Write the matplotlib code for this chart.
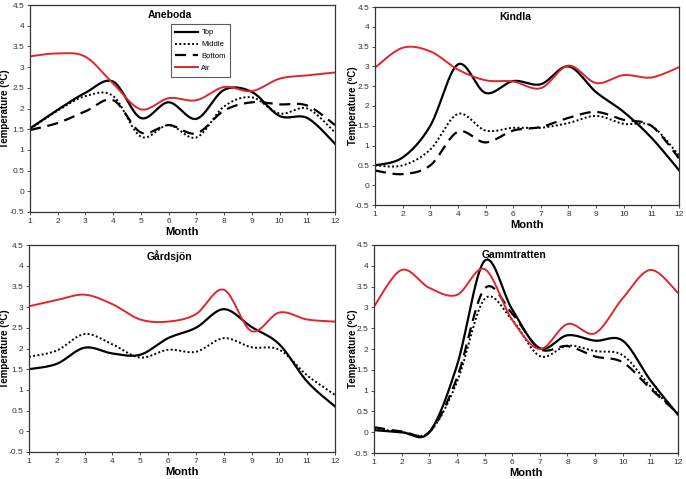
import numpy as np
import matplotlib
matplotlib.use("Agg")
import matplotlib.pyplot as plt
from matplotlib.lines import Line2D

plt.rcParams['font.family'] = ['Liberation Sans', 'DejaVu Sans']

months = list(range(1, 13))

aneboda_top = [1.52, 1.97, 2.38, 2.65, 1.77, 2.15, 1.75, 2.45, 2.40, 1.82, 1.77, 1.15]
aneboda_middle = [1.50, 1.95, 2.30, 2.30, 1.32, 1.60, 1.30, 2.05, 2.27, 1.88, 2.00, 1.42]
aneboda_bottom = [1.48, 1.65, 1.93, 2.20, 1.42, 1.60, 1.40, 1.95, 2.15, 2.10, 2.07, 1.60]
aneboda_air = [3.26, 3.33, 3.25, 2.60, 1.98, 2.25, 2.20, 2.52, 2.42, 2.72, 2.80, 2.87]

kindla_top = [0.50, 0.70, 1.50, 3.05, 2.33, 2.63, 2.55, 3.00, 2.35, 1.85, 1.20, 0.38]
kindla_middle = [0.50, 0.50, 0.90, 1.80, 1.38, 1.45, 1.45, 1.57, 1.75, 1.55, 1.50, 0.75]
kindla_bottom = [0.37, 0.28, 0.50, 1.35, 1.08, 1.38, 1.47, 1.70, 1.85, 1.65, 1.50, 0.68]
kindla_air = [2.97, 3.47, 3.38, 2.92, 2.65, 2.62, 2.45, 3.02, 2.58, 2.78, 2.72, 2.98]

gardsjon_top = [1.50, 1.63, 2.02, 1.88, 1.85, 2.25, 2.50, 2.95, 2.52, 2.10, 1.20, 0.60]
gardsjon_middle = [1.80, 1.95, 2.35, 2.10, 1.78, 1.97, 1.92, 2.25, 2.03, 1.97, 1.35, 0.88]
gardsjon_air = [3.02, 3.17, 3.30, 3.07, 2.70, 2.65, 2.83, 3.42, 2.42, 2.87, 2.70, 2.65]

gamm_top = [0.05, 0.00, 0.00, 1.60, 4.12, 2.95, 2.02, 2.33, 2.20, 2.20, 1.25, 0.42]
gamm_middle = [0.10, 0.00, 0.00, 1.20, 3.20, 2.70, 1.83, 2.08, 1.95, 1.85, 1.10, 0.45]
gamm_bottom = [0.12, 0.02, 0.00, 1.30, 3.45, 2.85, 2.00, 2.07, 1.82, 1.68, 1.05, 0.45]
gamm_air = [3.02, 3.90, 3.47, 3.30, 3.92, 2.70, 2.00, 2.60, 2.38, 3.22, 3.90, 3.35]

yticks = [-0.5, 0, 0.5, 1, 1.5, 2, 2.5, 3, 3.5, 4, 4.5]
ytick_labels = ['-0.5', '0', '0.5', '1', '1.5', '2', '2.5', '3', '3.5', '4', '4.5']


def smooth(x, y, n=20):
    # Catmull-Rom (Excel-like smoothed line) through the data points
    x = np.asarray(x, float)
    y = np.asarray(y, float)
    px = np.concatenate([[x[0]], x, [x[-1]]])
    py = np.concatenate([[y[0]], y, [y[-1]]])
    xs, ys = [], []
    t = np.linspace(0, 1, n, endpoint=False)
    for i in range(1, len(px) - 2):
        p0x, p1x, p2x, p3x = px[i - 1], px[i], px[i + 1], px[i + 2]
        p0y, p1y, p2y, p3y = py[i - 1], py[i], py[i + 1], py[i + 2]
        c1x = p1x + (p2x - p0x) / 6
        c1y = p1y + (p2y - p0y) / 6
        c2x = p2x - (p3x - p1x) / 6
        c2y = p2y - (p3y - p1y) / 6
        b = lambda a, c1, c2, d: ((1 - t) ** 3 * a + 3 * (1 - t) ** 2 * t * c1
                                  + 3 * (1 - t) * t ** 2 * c2 + t ** 3 * d)
        xs.append(b(p1x, c1x, c2x, p2x))
        ys.append(b(p1y, c1y, c2y, p2y))
    xs.append([x[-1]])
    ys.append([y[-1]])
    return np.concatenate(xs), np.concatenate(ys)


fig = plt.figure(figsize=(6.86, 4.79), dpi=100)
W, H = 686, 479


def make_ax(l, r, t, b):
    return fig.add_axes([l / W, 1 - b / H, (r - l) / W, (b - t) / H])


panels = [
    (make_ax(30, 335, 5, 212), 'Aneboda',
     [aneboda_top, aneboda_middle, aneboda_bottom], aneboda_air, True, -0.066),
    (make_ax(375, 679, 7, 205), 'Kindla',
     [kindla_top, kindla_middle, kindla_bottom], kindla_air, False, -0.056),
    (make_ax(29, 335, 245, 452), 'Gårdsjön',
     [gardsjon_top, gardsjon_middle], gardsjon_air, False, -0.062),
    (make_ax(374, 678, 245, 453), 'Gammtratten',
     [gamm_top, gamm_middle, gamm_bottom], gamm_air, False, -0.053),
]

styles = [dict(color='black', lw=1.6, ls='-'),
          dict(color='black', lw=1.4, ls=(0, (1, 1.2))),
          dict(color='black', lw=1.6, ls=(0, (5, 3)))]
air_style = dict(color='#e0252b', lw=1.4, ls='-')

for ax, title, soil, air, legend, ylx in panels:
    for series, st in zip(soil, styles):
        xs, ys = smooth(months, series)
        ax.plot(xs, ys, **st)
    xs, ys = smooth(months, air)
    ax.plot(xs, ys, **air_style)
    ax.set_xlim(1, 12)
    ax.set_ylim(-0.5, 4.5)
    ax.set_xticks(months)
    ax.set_xticklabels([str(m) for m in months])
    ax.set_yticks(yticks)
    ax.set_yticklabels(ytick_labels)
    ax.tick_params(labelsize=6, length=2, width=0.6, pad=2, colors='#333333')
    for s in ax.spines.values():
        s.set_color('#333333')
        s.set_linewidth(0.9)
    ax.set_xlabel('Month', fontsize=8, fontweight='bold', labelpad=2)
    ax.set_ylabel('Temperature (ºC)', fontsize=7, fontweight='bold')
    ax.yaxis.set_label_coords(ylx, 0.5)
    ax.text(0.46, 0.975, title, transform=ax.transAxes, ha='center', va='top',
            fontsize=7.5, fontweight='bold')
    if legend:
        handles = [Line2D([], [], **styles[0]), Line2D([], [], **styles[1]),
                   Line2D([], [], **styles[2]), Line2D([], [], **air_style)]
        leg = ax.legend(handles, ['Top', 'Middle', 'Bottom', 'Air'],
                        loc='upper left', bbox_to_anchor=(0.449, 0.925),
                        fontsize=5.5, frameon=True, fancybox=False,
                        handlelength=3.0, labelspacing=0.6, borderpad=0.6,
                        handletextpad=0.4)
        leg.get_frame().set_edgecolor('#333333')
        leg.get_frame().set_linewidth(0.8)

fig.savefig('out.png', dpi=100)
